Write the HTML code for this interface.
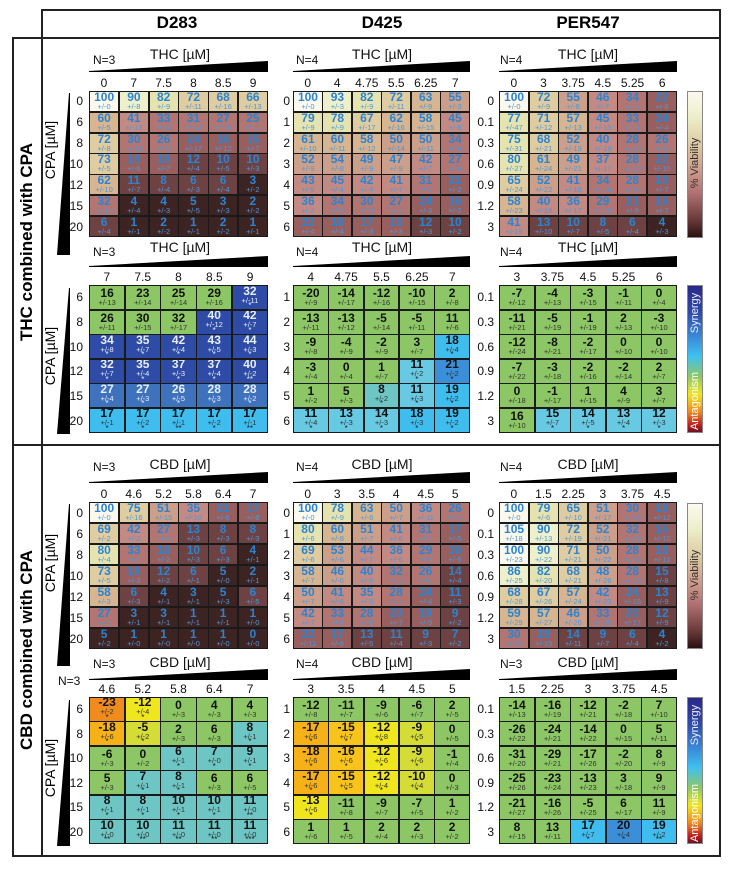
<!DOCTYPE html>
<html><head><meta charset="utf-8"><style>
*{margin:0;padding:0;box-sizing:border-box}
body{width:732px;height:869px;background:#fff;position:relative;font-family:"Liberation Sans",Arial,sans-serif;overflow:hidden}
.ab{position:absolute}
.ln{position:absolute;background:#222}
.g6,.g5{position:absolute;display:grid;gap:1.5px;background:#1a1a1a;border:1.5px solid #1a1a1a}
.g6{grid-template-columns:repeat(6,1fr);grid-template-rows:repeat(7,1fr)}
.g5{grid-template-columns:repeat(5,1fr);grid-template-rows:repeat(6,1fr)}
.g6>div,.g5>div{display:flex;flex-direction:column;align-items:center;justify-content:center;overflow:hidden;position:relative}
.g5>div:has(u){padding-bottom:5px}
.g6 b{font-size:12px;line-height:11px;color:#2b84d2;font-weight:bold}
.g6 i{font-style:normal;font-size:7.5px;line-height:8px;color:#4d97d8}
.g5 b{font-size:12px;line-height:11px;color:#111;font-weight:bold}
.g5 i{font-style:normal;font-size:7.5px;line-height:8px;color:#333}
.g5 u{text-decoration:none;font-size:8px;line-height:6px;color:#222;position:absolute;bottom:0;left:0;right:0;text-align:center}
.a10{background:#fbf9ee}.a9{background:#eef0cc}.a8{background:#e5e4b0}.a7{background:#dfcca0}.a6{background:#d6b590}.a5{background:#cc9f8a}.a4{background:#c38a84}.a3{background:#b27571}.a2{background:#985f5e}.a1{background:#6e4242}.a0{background:#3e2323}
.g{background:#8dc765}.t{background:#6ec6c4}.lc{background:#68c9e2}.c{background:#3ebdee}.m{background:#3a8fd8}
.b1{background:#3f72bc}.b2{background:#2e4ba6}.b1 b,.b1 i,.b1 u,.b2 b,.b2 i,.b2 u{color:#e8eef8}
.y{background:#f0e61e}.yg{background:#d6dc36}.o{background:#f8c41c}.oo{background:#f6b018}.r{background:#f08b1e}
.cl{position:absolute;display:grid;font-size:12px;text-align:center;color:#111;height:16px;line-height:16px}
.rl{position:absolute;display:grid;font-size:12px;text-align:right;color:#111;width:30px}
.rl span{display:flex;align-items:center;justify-content:flex-end}
.nl{position:absolute;font-size:12px;color:#111}
.tl{position:absolute;font-size:14px;color:#111;width:120px;text-align:center}
.rot{position:absolute;transform:rotate(-90deg);transform-origin:center;white-space:nowrap;text-align:center}
.cb{position:absolute;width:16px;border:1.5px solid #888}
.cv{background:linear-gradient(#fbfaf0,#eceec6 18%,#dcc6a0 38%,#cc9a8a 55%,#b07070 70%,#6a3a3a 88%,#2a1010)}
.cs{background:linear-gradient(#2a2888,#2e4ba8 18%,#3a8ad8 35%,#40c0f0 48%,#8dc765 62%,#f0e61e 74%,#f08b1e 86%,#c02020 95%,#701020)}
</style></head><body>

<div class="ln" style="left:42px;top:9px;width:679px;height:2px"></div>
<div class="ln" style="left:13px;top:37px;width:708px;height:2px"></div>
<div class="ln" style="left:41px;top:9px;width:2px;height:848px"></div>
<div class="ln" style="left:719px;top:9px;width:2px;height:848px"></div>
<div class="ln" style="left:12px;top:37px;width:2px;height:820px"></div>
<div class="ln" style="left:13px;top:444px;width:708px;height:2px"></div>
<div class="ln" style="left:12px;top:855px;width:709px;height:2px"></div>

<div class="ab" style="left:117px;top:13px;width:120px;text-align:center;font-size:17px;font-weight:bold">D283</div>
<div class="ab" style="left:322px;top:13px;width:120px;text-align:center;font-size:17px;font-weight:bold">D425</div>
<div class="ab" style="left:528px;top:13px;width:120px;text-align:center;font-size:17px;font-weight:bold">PER547</div>

<div class="rot" style="left:-73px;top:232px;width:200px;font-size:17px;font-weight:bold">THC combined with CPA</div>
<div class="rot" style="left:-73px;top:640px;width:200px;font-size:17px;font-weight:bold">CBD combined with CPA</div>

<div class="rot" style="left:20px;top:142px;width:60px;font-size:14px">CPA [µM]</div>
<svg class="ab" style="left:56px;top:93px" width="16" height="162"><polygon points="14,0 14,162 1,162 13,0" fill="#000"/></svg>
<div class="rot" style="left:20px;top:348px;width:60px;font-size:14px">CPA [µM]</div>
<svg class="ab" style="left:56px;top:288px" width="16" height="146"><polygon points="14,0 14,146 1,146 13,0" fill="#000"/></svg>
<div class="rot" style="left:20px;top:555px;width:60px;font-size:14px">CPA [µM]</div>
<svg class="ab" style="left:56px;top:504px" width="16" height="162"><polygon points="14,0 14,162 1,162 13,0" fill="#000"/></svg>
<div class="rot" style="left:20px;top:760px;width:60px;font-size:14px">CPA [µM]</div>
<svg class="ab" style="left:56px;top:700px" width="16" height="146"><polygon points="14,0 14,146 1,146 13,0" fill="#000"/></svg>

<div class="nl" style="left:93px;top:53px">N=3</div><div class="tl" style="left:120px;top:46px">THC [µM]</div>
<svg class="ab" style="left:89px;top:61px" width="179" height="11"><polygon points="0,10 179,0 179,11 0,11" fill="#000"/></svg>
<div class="nl" style="left:296px;top:53px">N=4</div><div class="tl" style="left:322px;top:46px">THC [µM]</div>
<svg class="ab" style="left:293px;top:61px" width="177" height="11"><polygon points="0,10 177,0 177,11 0,11" fill="#000"/></svg>
<div class="nl" style="left:500px;top:53px">N=4</div><div class="tl" style="left:528px;top:46px">THC [µM]</div>
<svg class="ab" style="left:499px;top:61px" width="178" height="11"><polygon points="0,10 178,0 178,11 0,11" fill="#000"/></svg>
<div class="nl" style="left:93px;top:245px">N=3</div><div class="tl" style="left:120px;top:239px">THC [µM]</div>
<svg class="ab" style="left:89px;top:256px" width="179" height="11"><polygon points="0,10 179,0 179,11 0,11" fill="#000"/></svg>
<div class="nl" style="left:296px;top:245px">N=4</div><div class="tl" style="left:322px;top:239px">THC [µM]</div>
<svg class="ab" style="left:293px;top:256px" width="177" height="11"><polygon points="0,10 177,0 177,11 0,11" fill="#000"/></svg>
<div class="nl" style="left:500px;top:245px">N=4</div><div class="tl" style="left:528px;top:239px">THC [µM]</div>
<svg class="ab" style="left:499px;top:256px" width="178" height="11"><polygon points="0,10 178,0 178,11 0,11" fill="#000"/></svg>
<div class="nl" style="left:93px;top:460px">N=3</div><div class="tl" style="left:120px;top:456px">CBD [µM]</div>
<svg class="ab" style="left:89px;top:472px" width="179" height="11"><polygon points="0,10 179,0 179,11 0,11" fill="#000"/></svg>
<div class="nl" style="left:296px;top:460px">N=4</div><div class="tl" style="left:322px;top:456px">CBD [µM]</div>
<svg class="ab" style="left:293px;top:472px" width="177" height="11"><polygon points="0,10 177,0 177,11 0,11" fill="#000"/></svg>
<div class="nl" style="left:500px;top:460px">N=4</div><div class="tl" style="left:528px;top:456px">CBD [µM]</div>
<svg class="ab" style="left:499px;top:472px" width="178" height="11"><polygon points="0,10 178,0 178,11 0,11" fill="#000"/></svg>
<div class="nl" style="left:93px;top:657px">N=3</div><div class="tl" style="left:120px;top:654px">CBD [µM]</div>
<div class="nl" style="left:58px;top:674px">N=3</div>
<svg class="ab" style="left:89px;top:669px" width="179" height="11"><polygon points="0,10 179,0 179,11 0,11" fill="#000"/></svg>
<div class="nl" style="left:296px;top:657px">N=4</div><div class="tl" style="left:322px;top:654px">CBD [µM]</div>
<svg class="ab" style="left:293px;top:669px" width="177" height="11"><polygon points="0,10 177,0 177,11 0,11" fill="#000"/></svg>
<div class="nl" style="left:500px;top:657px">N=3</div><div class="tl" style="left:528px;top:654px">CBD [µM]</div>
<svg class="ab" style="left:499px;top:669px" width="178" height="11"><polygon points="0,10 178,0 178,11 0,11" fill="#000"/></svg>

<div class="cl" style="left:89px;top:75px;width:179px;grid-template-columns:repeat(6,1fr)"><span>0</span><span>7</span><span>7.5</span><span>8</span><span>8.5</span><span>9</span></div>
<div class="cl" style="left:293px;top:75px;width:177px;grid-template-columns:repeat(6,1fr)"><span>0</span><span>4</span><span>4.75</span><span>5.5</span><span>6.25</span><span>7</span></div>
<div class="cl" style="left:499px;top:75px;width:178px;grid-template-columns:repeat(6,1fr)"><span>0</span><span>3</span><span>3.75</span><span>4.5</span><span>5.25</span><span>6</span></div>
<div class="cl" style="left:89px;top:269px;width:179px;grid-template-columns:repeat(5,1fr)"><span>7</span><span>7.5</span><span>8</span><span>8.5</span><span>9</span></div>
<div class="cl" style="left:293px;top:269px;width:177px;grid-template-columns:repeat(5,1fr)"><span>4</span><span>4.75</span><span>5.5</span><span>6.25</span><span>7</span></div>
<div class="cl" style="left:499px;top:269px;width:178px;grid-template-columns:repeat(5,1fr)"><span>3</span><span>3.75</span><span>4.5</span><span>5.25</span><span>6</span></div>
<div class="cl" style="left:89px;top:486px;width:179px;grid-template-columns:repeat(6,1fr)"><span>0</span><span>4.6</span><span>5.2</span><span>5.8</span><span>6.4</span><span>7</span></div>
<div class="cl" style="left:293px;top:486px;width:177px;grid-template-columns:repeat(6,1fr)"><span>0</span><span>3</span><span>3.5</span><span>4</span><span>4.5</span><span>5</span></div>
<div class="cl" style="left:499px;top:486px;width:178px;grid-template-columns:repeat(6,1fr)"><span>0</span><span>1.5</span><span>2.25</span><span>3</span><span>3.75</span><span>4.5</span></div>
<div class="cl" style="left:89px;top:681px;width:179px;grid-template-columns:repeat(5,1fr)"><span>4.6</span><span>5.2</span><span>5.8</span><span>6.4</span><span>7</span></div>
<div class="cl" style="left:293px;top:681px;width:177px;grid-template-columns:repeat(5,1fr)"><span>3</span><span>3.5</span><span>4</span><span>4.5</span><span>5</span></div>
<div class="cl" style="left:499px;top:681px;width:178px;grid-template-columns:repeat(5,1fr)"><span>1.5</span><span>2.25</span><span>3</span><span>3.75</span><span>4.5</span></div>

<div class="rl" style="left:53px;top:91px;height:146px;grid-template-rows:repeat(7,1fr)"><span>0</span><span>6</span><span>8</span><span>10</span><span>12</span><span>15</span><span>20</span></div>
<div class="rl" style="left:260px;top:91px;height:146px;grid-template-rows:repeat(7,1fr)"><span>0</span><span>1</span><span>2</span><span>3</span><span>4</span><span>5</span><span>6</span></div>
<div class="rl" style="left:464px;top:91px;height:146px;grid-template-rows:repeat(7,1fr)"><span>0</span><span>0.1</span><span>0.3</span><span>0.6</span><span>0.9</span><span>1.2</span><span>3</span></div>
<div class="rl" style="left:53px;top:285px;height:148px;grid-template-rows:repeat(6,1fr)"><span>6</span><span>8</span><span>10</span><span>12</span><span>15</span><span>20</span></div>
<div class="rl" style="left:260px;top:285px;height:148px;grid-template-rows:repeat(6,1fr)"><span>1</span><span>2</span><span>3</span><span>4</span><span>5</span><span>6</span></div>
<div class="rl" style="left:464px;top:285px;height:148px;grid-template-rows:repeat(6,1fr)"><span>0.1</span><span>0.3</span><span>0.6</span><span>0.9</span><span>1.2</span><span>3</span></div>
<div class="rl" style="left:53px;top:502px;height:147px;grid-template-rows:repeat(7,1fr)"><span>0</span><span>6</span><span>8</span><span>10</span><span>12</span><span>15</span><span>20</span></div>
<div class="rl" style="left:260px;top:502px;height:147px;grid-template-rows:repeat(7,1fr)"><span>0</span><span>1</span><span>2</span><span>3</span><span>4</span><span>5</span><span>6</span></div>
<div class="rl" style="left:464px;top:502px;height:147px;grid-template-rows:repeat(7,1fr)"><span>0</span><span>0.1</span><span>0.3</span><span>0.6</span><span>0.9</span><span>1.2</span><span>3</span></div>
<div class="rl" style="left:53px;top:697px;height:147px;grid-template-rows:repeat(6,1fr)"><span>6</span><span>8</span><span>10</span><span>12</span><span>15</span><span>20</span></div>
<div class="rl" style="left:260px;top:697px;height:147px;grid-template-rows:repeat(6,1fr)"><span>1</span><span>2</span><span>3</span><span>4</span><span>5</span><span>6</span></div>
<div class="rl" style="left:464px;top:697px;height:147px;grid-template-rows:repeat(6,1fr)"><span>0.1</span><span>0.3</span><span>0.6</span><span>0.9</span><span>1.2</span><span>3</span></div>

<div class="cb cv" style="left:687px;top:91px;height:147px"></div>
<div class="rot" style="left:655px;top:157px;width:80px;font-size:11px;color:#333">% Viability</div>
<div class="cb cs" style="left:687px;top:285px;height:148px"></div>
<div class="rot" style="left:665px;top:307px;width:60px;font-size:11px;color:#eef">Synergy</div>
<div class="rot" style="left:655px;top:395px;width:80px;font-size:11px;color:#fff">Antagonism</div>
<div class="cb cv" style="left:687px;top:503px;height:146px"></div>
<div class="rot" style="left:655px;top:569px;width:80px;font-size:11px;color:#333">% Viability</div>
<div class="cb cs" style="left:687px;top:697px;height:147px"></div>
<div class="rot" style="left:665px;top:719px;width:60px;font-size:11px;color:#eef">Synergy</div>
<div class="rot" style="left:655px;top:807px;width:80px;font-size:11px;color:#fff">Antagonism</div>

<div class="g6" style="left:89px;top:91px;width:179px;height:146px">
<div class="a10"><b>100</b><i>+/-0</i></div><div class="a9"><b>90</b><i>+/-8</i></div><div class="a8"><b>82</b><i>+/-9</i></div><div class="a7"><b>72</b><i>+/-11</i></div><div class="a7"><b>68</b><i>+/-16</i></div><div class="a7"><b>66</b><i>+/-13</i></div>
<div class="a6"><b>60</b><i>+/-5</i></div><div class="a4"><b>41</b><i>+/-13</i></div><div class="a3"><b>33</b><i>+/-14</i></div><div class="a3"><b>31</b><i>+/-14</i></div><div class="a3"><b>27</b><i>+/-16</i></div><div class="a3"><b>25</b><i>+/-11</i></div>
<div class="a7"><b>72</b><i>+/-8</i></div><div class="a3"><b>30</b><i>+/-11</i></div><div class="a3"><b>26</b><i>+/-15</i></div><div class="a2"><b>24</b><i>+/-17</i></div><div class="a2"><b>16</b><i>+/-12</i></div><div class="a2"><b>15</b><i>+/-7</i></div>
<div class="a7"><b>73</b><i>+/-5</i></div><div class="a2"><b>19</b><i>+/-6</i></div><div class="a2"><b>19</b><i>+/-7</i></div><div class="a1"><b>12</b><i>+/-4</i></div><div class="a1"><b>10</b><i>+/-5</i></div><div class="a1"><b>10</b><i>+/-3</i></div>
<div class="a6"><b>62</b><i>+/-10</i></div><div class="a1"><b>11</b><i>+/-7</i></div><div class="a1"><b>8</b><i>+/-4</i></div><div class="a1"><b>6</b><i>+/-3</i></div><div class="a1"><b>6</b><i>+/-4</i></div><div class="a0"><b>3</b><i>+/-2</i></div>
<div class="a3"><b>32</b><i>+/-10</i></div><div class="a0"><b>4</b><i>+/-4</i></div><div class="a0"><b>4</b><i>+/-3</i></div><div class="a0"><b>5</b><i>+/-5</i></div><div class="a0"><b>3</b><i>+/-3</i></div><div class="a0"><b>2</b><i>+/-2</i></div>
<div class="a1"><b>6</b><i>+/-4</i></div><div class="a0"><b>1</b><i>+/-1</i></div><div class="a0"><b>2</b><i>+/-2</i></div><div class="a0"><b>1</b><i>+/-1</i></div><div class="a0"><b>2</b><i>+/-2</i></div><div class="a0"><b>1</b><i>+/-1</i></div>
</div>

<div class="g6" style="left:293px;top:91px;width:177px;height:146px">
<div class="a10"><b>100</b><i>+/-0</i></div><div class="a9"><b>93</b><i>+/-3</i></div><div class="a8"><b>82</b><i>+/-9</i></div><div class="a7"><b>72</b><i>+/-11</i></div><div class="a6"><b>63</b><i>+/-9</i></div><div class="a5"><b>55</b><i>+/-3</i></div>
<div class="a8"><b>79</b><i>+/-9</i></div><div class="a8"><b>78</b><i>+/-9</i></div><div class="a7"><b>67</b><i>+/-17</i></div><div class="a6"><b>62</b><i>+/-16</i></div><div class="a6"><b>58</b><i>+/-15</i></div><div class="a4"><b>45</b><i>+/-8</i></div>
<div class="a6"><b>61</b><i>+/-10</i></div><div class="a6"><b>60</b><i>+/-11</i></div><div class="a6"><b>58</b><i>+/-12</i></div><div class="a5"><b>50</b><i>+/-14</i></div><div class="a5"><b>50</b><i>+/-11</i></div><div class="a3"><b>34</b><i>+/-6</i></div>
<div class="a5"><b>52</b><i>+/-9</i></div><div class="a5"><b>54</b><i>+/-8</i></div><div class="a5"><b>49</b><i>+/-9</i></div><div class="a5"><b>47</b><i>+/-9</i></div><div class="a4"><b>42</b><i>+/-7</i></div><div class="a3"><b>27</b><i>+/-4</i></div>
<div class="a4"><b>43</b><i>+/-5</i></div><div class="a4"><b>45</b><i>+/-4</i></div><div class="a4"><b>42</b><i>+/-4</i></div><div class="a4"><b>41</b><i>+/-7</i></div><div class="a3"><b>31</b><i>+/-2</i></div><div class="a2"><b>21</b><i>+/-2</i></div>
<div class="a4"><b>36</b><i>+/-2</i></div><div class="a3"><b>34</b><i>+/-2</i></div><div class="a3"><b>30</b><i>+/-3</i></div><div class="a3"><b>27</b><i>+/-2</i></div><div class="a2"><b>24</b><i>+/-3</i></div><div class="a2"><b>16</b><i>+/-2</i></div>
<div class="a2"><b>22</b><i>+/-4</i></div><div class="a2"><b>18</b><i>+/-4</i></div><div class="a2"><b>17</b><i>+/-3</i></div><div class="a2"><b>16</b><i>+/-3</i></div><div class="a1"><b>12</b><i>+/-3</i></div><div class="a1"><b>10</b><i>+/-2</i></div>
</div>

<div class="g6" style="left:499px;top:91px;width:178px;height:146px">
<div class="a10"><b>100</b><i>+/-0</i></div><div class="a7"><b>72</b><i>+/-9</i></div><div class="a5"><b>55</b><i>+/-8</i></div><div class="a4"><b>46</b><i>+/-7</i></div><div class="a3"><b>34</b><i>+/-6</i></div><div class="a2"><b>22</b><i>+/-8</i></div>
<div class="a8"><b>77</b><i>+/-47</i></div><div class="a7"><b>71</b><i>+/-12</i></div><div class="a6"><b>57</b><i>+/-13</i></div><div class="a4"><b>45</b><i>+/-15</i></div><div class="a3"><b>33</b><i>+/-11</i></div><div class="a2"><b>24</b><i>+/-4</i></div>
<div class="a8"><b>75</b><i>+/-31</i></div><div class="a7"><b>68</b><i>+/-21</i></div><div class="a5"><b>52</b><i>+/-19</i></div><div class="a4"><b>40</b><i>+/-19</i></div><div class="a3"><b>28</b><i>+/-13</i></div><div class="a3"><b>26</b><i>+/-10</i></div>
<div class="a8"><b>80</b><i>+/-27</i></div><div class="a6"><b>61</b><i>+/-24</i></div><div class="a5"><b>49</b><i>+/-21</i></div><div class="a4"><b>37</b><i>+/-17</i></div><div class="a3"><b>28</b><i>+/-10</i></div><div class="a2"><b>22</b><i>+/-10</i></div>
<div class="a7"><b>65</b><i>+/-24</i></div><div class="a5"><b>52</b><i>+/-22</i></div><div class="a4"><b>41</b><i>+/-18</i></div><div class="a3"><b>34</b><i>+/-16</i></div><div class="a3"><b>28</b><i>+/-14</i></div><div class="a2"><b>19</b><i>+/-7</i></div>
<div class="a6"><b>58</b><i>+/-23</i></div><div class="a4"><b>40</b><i>+/-18</i></div><div class="a4"><b>36</b><i>+/-17</i></div><div class="a3"><b>29</b><i>+/-15</i></div><div class="a2"><b>21</b><i>+/-9</i></div><div class="a2"><b>16</b><i>+/-7</i></div>
<div class="a4"><b>41</b><i>+/-19</i></div><div class="a1"><b>13</b><i>+/-10</i></div><div class="a1"><b>10</b><i>+/-7</i></div><div class="a1"><b>8</b><i>+/-5</i></div><div class="a1"><b>6</b><i>+/-4</i></div><div class="a0"><b>4</b><i>+/-3</i></div>
</div>

<div class="g5" style="left:89px;top:285px;width:179px;height:148px">
<div class="g"><b>16</b><i>+/-13</i></div><div class="g"><b>23</b><i>+/-14</i></div><div class="g"><b>25</b><i>+/-14</i></div><div class="g"><b>29</b><i>+/-16</i></div><div class="b2"><b>32</b><i>+/-11</i><u>*</u></div>
<div class="g"><b>26</b><i>+/-11</i></div><div class="g"><b>30</b><i>+/-15</i></div><div class="g"><b>32</b><i>+/-17</i></div><div class="b2"><b>40</b><i>+/-12</i><u>*</u></div><div class="b2"><b>42</b><i>+/-7</i><u>*</u></div>
<div class="b2"><b>34</b><i>+/-8</i><u>*</u></div><div class="b2"><b>35</b><i>+/-7</i><u>*</u></div><div class="b2"><b>42</b><i>+/-4</i><u>*</u></div><div class="b2"><b>43</b><i>+/-5</i><u>*</u></div><div class="b2"><b>44</b><i>+/-3</i><u>*</u></div>
<div class="b2"><b>32</b><i>+/-7</i><u>*</u></div><div class="b2"><b>35</b><i>+/-4</i><u>*</u></div><div class="b2"><b>37</b><i>+/-3</i><u>*</u></div><div class="b2"><b>37</b><i>+/-4</i><u>*</u></div><div class="b2"><b>40</b><i>+/-2</i><u>**</u></div>
<div class="b1"><b>27</b><i>+/-4</i><u>*</u></div><div class="b1"><b>27</b><i>+/-3</i><u>*</u></div><div class="b1"><b>26</b><i>+/-5</i><u>*</u></div><div class="b1"><b>28</b><i>+/-3</i><u>*</u></div><div class="b1"><b>28</b><i>+/-2</i><u>*</u></div>
<div class="c"><b>17</b><i>+/-1</i><u>*</u></div><div class="c"><b>17</b><i>+/-2</i><u>*</u></div><div class="c"><b>17</b><i>+/-1</i><u>**</u></div><div class="c"><b>17</b><i>+/-2</i><u>*</u></div><div class="c"><b>17</b><i>+/-1</i><u>**</u></div>
</div>

<div class="g5" style="left:293px;top:285px;width:177px;height:148px">
<div class="g"><b>-20</b><i>+/-9</i></div><div class="g"><b>-14</b><i>+/-17</i></div><div class="g"><b>-12</b><i>+/-16</i></div><div class="g"><b>-10</b><i>+/-15</i></div><div class="g"><b>2</b><i>+/-8</i></div>
<div class="g"><b>-13</b><i>+/-11</i></div><div class="g"><b>-13</b><i>+/-12</i></div><div class="g"><b>-5</b><i>+/-14</i></div><div class="g"><b>-5</b><i>+/-11</i></div><div class="g"><b>11</b><i>+/-6</i></div>
<div class="g"><b>-9</b><i>+/-8</i></div><div class="g"><b>-4</b><i>+/-9</i></div><div class="g"><b>-2</b><i>+/-9</i></div><div class="g"><b>3</b><i>+/-7</i></div><div class="c"><b>18</b><i>+/-4</i><u>*</u></div>
<div class="g"><b>-3</b><i>+/-4</i></div><div class="g"><b>0</b><i>+/-4</i></div><div class="g"><b>1</b><i>+/-7</i></div><div class="lc"><b>11</b><i>+/-2</i><u>*</u></div><div class="m"><b>21</b><i>+/-2</i><u>*</u></div>
<div class="g"><b>1</b><i>+/-2</i></div><div class="g"><b>5</b><i>+/-3</i></div><div class="t"><b>8</b><i>+/-2</i><u>*</u></div><div class="lc"><b>11</b><i>+/-3</i><u>*</u></div><div class="c"><b>19</b><i>+/-2</i><u>*</u></div>
<div class="lc"><b>11</b><i>+/-4</i><u>*</u></div><div class="lc"><b>13</b><i>+/-3</i><u>*</u></div><div class="lc"><b>14</b><i>+/-3</i><u>*</u></div><div class="c"><b>18</b><i>+/-3</i><u>*</u></div><div class="c"><b>19</b><i>+/-2</i><u>*</u></div>
</div>

<div class="g5" style="left:499px;top:285px;width:178px;height:148px">
<div class="g"><b>-7</b><i>+/-12</i></div><div class="g"><b>-4</b><i>+/-13</i></div><div class="g"><b>-3</b><i>+/-15</i></div><div class="g"><b>-1</b><i>+/-11</i></div><div class="g"><b>0</b><i>+/-4</i></div>
<div class="g"><b>-11</b><i>+/-21</i></div><div class="g"><b>-5</b><i>+/-19</i></div><div class="g"><b>-1</b><i>+/-19</i></div><div class="g"><b>2</b><i>+/-13</i></div><div class="g"><b>-3</b><i>+/-10</i></div>
<div class="g"><b>-12</b><i>+/-24</i></div><div class="g"><b>-8</b><i>+/-21</i></div><div class="g"><b>-2</b><i>+/-17</i></div><div class="g"><b>0</b><i>+/-10</i></div><div class="g"><b>0</b><i>+/-10</i></div>
<div class="g"><b>-7</b><i>+/-22</i></div><div class="g"><b>-3</b><i>+/-18</i></div><div class="g"><b>-2</b><i>+/-16</i></div><div class="g"><b>-2</b><i>+/-14</i></div><div class="g"><b>2</b><i>+/-7</i></div>
<div class="g"><b>0</b><i>+/-18</i></div><div class="g"><b>-1</b><i>+/-17</i></div><div class="g"><b>1</b><i>+/-15</i></div><div class="g"><b>4</b><i>+/-9</i></div><div class="g"><b>3</b><i>+/-7</i></div>
<div class="g"><b>16</b><i>+/-10</i></div><div class="lc"><b>15</b><i>+/-7</i><u>*</u></div><div class="lc"><b>14</b><i>+/-5</i><u>*</u></div><div class="lc"><b>13</b><i>+/-4</i><u>*</u></div><div class="lc"><b>12</b><i>+/-3</i><u>*</u></div>
</div>

<div class="g6" style="left:89px;top:502px;width:179px;height:147px">
<div class="a10"><b>100</b><i>+/-0</i></div><div class="a7"><b>75</b><i>+/-16</i></div><div class="a5"><b>51</b><i>+/-15</i></div><div class="a4"><b>35</b><i>+/-10</i></div><div class="a2"><b>21</b><i>+/-6</i></div><div class="a2"><b>17</b><i>+/-8</i></div>
<div class="a7"><b>69</b><i>+/-2</i></div><div class="a4"><b>42</b><i>+/-2</i></div><div class="a3"><b>27</b><i>+/-4</i></div><div class="a1"><b>13</b><i>+/-3</i></div><div class="a1"><b>8</b><i>+/-3</i></div><div class="a1"><b>8</b><i>+/-3</i></div>
<div class="a8"><b>80</b><i>+/-4</i></div><div class="a3"><b>33</b><i>+/-6</i></div><div class="a2"><b>18</b><i>+/-2</i></div><div class="a1"><b>10</b><i>+/-3</i></div><div class="a1"><b>6</b><i>+/-3</i></div><div class="a0"><b>4</b><i>+/-1</i></div>
<div class="a7"><b>73</b><i>+/-5</i></div><div class="a2"><b>18</b><i>+/-3</i></div><div class="a1"><b>12</b><i>+/-2</i></div><div class="a1"><b>6</b><i>+/-1</i></div><div class="a0"><b>5</b><i>+/-0</i></div><div class="a0"><b>2</b><i>+/-1</i></div>
<div class="a6"><b>58</b><i>+/-3</i></div><div class="a1"><b>6</b><i>+/-3</i></div><div class="a0"><b>4</b><i>+/-1</i></div><div class="a0"><b>3</b><i>+/-1</i></div><div class="a0"><b>5</b><i>+/-3</i></div><div class="a1"><b>6</b><i>+/-5</i></div>
<div class="a3"><b>27</b><i>+/-5</i></div><div class="a0"><b>3</b><i>+/-1</i></div><div class="a0"><b>3</b><i>+/-1</i></div><div class="a0"><b>1</b><i>+/-1</i></div><div class="a0"><b>1</b><i>+/-1</i></div><div class="a0"><b>1</b><i>+/-0</i></div>
<div class="a0"><b>5</b><i>+/-2</i></div><div class="a0"><b>1</b><i>+/-0</i></div><div class="a0"><b>1</b><i>+/-0</i></div><div class="a0"><b>1</b><i>+/-0</i></div><div class="a0"><b>1</b><i>+/-0</i></div><div class="a0"><b>0</b><i>+/-0</i></div>
</div>

<div class="g6" style="left:293px;top:502px;width:177px;height:147px">
<div class="a10"><b>100</b><i>+/-0</i></div><div class="a8"><b>78</b><i>+/-9</i></div><div class="a6"><b>63</b><i>+/-6</i></div><div class="a5"><b>50</b><i>+/-7</i></div><div class="a4"><b>36</b><i>+/-11</i></div><div class="a3"><b>26</b><i>+/-11</i></div>
<div class="a8"><b>80</b><i>+/-6</i></div><div class="a6"><b>60</b><i>+/-8</i></div><div class="a5"><b>51</b><i>+/-7</i></div><div class="a4"><b>41</b><i>+/-6</i></div><div class="a3"><b>31</b><i>+/-7</i></div><div class="a2"><b>17</b><i>+/-5</i></div>
<div class="a7"><b>69</b><i>+/-6</i></div><div class="a5"><b>53</b><i>+/-6</i></div><div class="a4"><b>44</b><i>+/-7</i></div><div class="a4"><b>36</b><i>+/-6</i></div><div class="a3"><b>29</b><i>+/-5</i></div><div class="a2"><b>16</b><i>+/-5</i></div>
<div class="a6"><b>58</b><i>+/-7</i></div><div class="a5"><b>46</b><i>+/-6</i></div><div class="a4"><b>40</b><i>+/-6</i></div><div class="a3"><b>32</b><i>+/-6</i></div><div class="a3"><b>26</b><i>+/-6</i></div><div class="a1"><b>14</b><i>+/-4</i></div>
<div class="a5"><b>50</b><i>+/-7</i></div><div class="a4"><b>41</b><i>+/-6</i></div><div class="a4"><b>35</b><i>+/-5</i></div><div class="a3"><b>28</b><i>+/-4</i></div><div class="a2"><b>24</b><i>+/-4</i></div><div class="a1"><b>11</b><i>+/-3</i></div>
<div class="a4"><b>42</b><i>+/-7</i></div><div class="a3"><b>33</b><i>+/-6</i></div><div class="a3"><b>28</b><i>+/-8</i></div><div class="a2"><b>23</b><i>+/-7</i></div><div class="a2"><b>19</b><i>+/-5</i></div><div class="a1"><b>9</b><i>+/-2</i></div>
<div class="a2"><b>22</b><i>+/-11</i></div><div class="a2"><b>17</b><i>+/-6</i></div><div class="a1"><b>13</b><i>+/-5</i></div><div class="a1"><b>11</b><i>+/-4</i></div><div class="a1"><b>9</b><i>+/-3</i></div><div class="a1"><b>7</b><i>+/-2</i></div>
</div>

<div class="g6" style="left:499px;top:502px;width:178px;height:147px">
<div class="a10"><b>100</b><i>+/-0</i></div><div class="a8"><b>79</b><i>+/-6</i></div><div class="a7"><b>65</b><i>+/-10</i></div><div class="a5"><b>51</b><i>+/-17</i></div><div class="a3"><b>30</b><i>+/-16</i></div><div class="a2"><b>18</b><i>+/-12</i></div>
<div class="a10"><b>105</b><i>+/-18</i></div><div class="a9"><b>90</b><i>+/-13</i></div><div class="a7"><b>72</b><i>+/-19</i></div><div class="a5"><b>52</b><i>+/-21</i></div><div class="a3"><b>32</b><i>+/-18</i></div><div class="a2"><b>16</b><i>+/-10</i></div>
<div class="a10"><b>100</b><i>+/-23</i></div><div class="a9"><b>90</b><i>+/-22</i></div><div class="a7"><b>71</b><i>+/-21</i></div><div class="a5"><b>50</b><i>+/-22</i></div><div class="a3"><b>28</b><i>+/-15</i></div><div class="a2"><b>18</b><i>+/-11</i></div>
<div class="a9"><b>86</b><i>+/-25</i></div><div class="a8"><b>82</b><i>+/-20</i></div><div class="a7"><b>68</b><i>+/-21</i></div><div class="a5"><b>48</b><i>+/-26</i></div><div class="a3"><b>28</b><i>+/-20</i></div><div class="a1"><b>15</b><i>+/-8</i></div>
<div class="a7"><b>68</b><i>+/-28</i></div><div class="a7"><b>67</b><i>+/-26</i></div><div class="a6"><b>57</b><i>+/-24</i></div><div class="a4"><b>42</b><i>+/-23</i></div><div class="a2"><b>24</b><i>+/-18</i></div><div class="a1"><b>13</b><i>+/-9</i></div>
<div class="a6"><b>59</b><i>+/-29</i></div><div class="a6"><b>57</b><i>+/-27</i></div><div class="a5"><b>46</b><i>+/-26</i></div><div class="a3"><b>33</b><i>+/-25</i></div><div class="a2"><b>20</b><i>+/-17</i></div><div class="a1"><b>12</b><i>+/-9</i></div>
<div class="a3"><b>30</b><i>+/-16</i></div><div class="a2"><b>19</b><i>+/-15</i></div><div class="a1"><b>14</b><i>+/-11</i></div><div class="a1"><b>9</b><i>+/-7</i></div><div class="a1"><b>6</b><i>+/-4</i></div><div class="a0"><b>4</b><i>+/-2</i></div>
</div>

<div class="g5" style="left:89px;top:697px;width:179px;height:147px">
<div class="r"><b>-23</b><i>+/-2</i><u>*</u></div><div class="y"><b>-12</b><i>+/-4</i><u>*</u></div><div class="g"><b>0</b><i>+/-3</i></div><div class="g"><b>4</b><i>+/-3</i></div><div class="g"><b>4</b><i>+/-3</i></div>
<div class="oo"><b>-18</b><i>+/-6</i><u>*</u></div><div class="yg"><b>-5</b><i>+/-2</i><u>*</u></div><div class="g"><b>2</b><i>+/-3</i></div><div class="g"><b>6</b><i>+/-3</i></div><div class="t"><b>8</b><i>+/-1</i><u>*</u></div>
<div class="g"><b>-6</b><i>+/-3</i></div><div class="g"><b>0</b><i>+/-2</i></div><div class="t"><b>6</b><i>+/-1</i><u>*</u></div><div class="t"><b>7</b><i>+/-0</i><u>*</u></div><div class="t"><b>9</b><i>+/-1</i><u>*</u></div>
<div class="g"><b>5</b><i>+/-3</i></div><div class="t"><b>7</b><i>+/-1</i><u>*</u></div><div class="t"><b>8</b><i>+/-1</i><u>*</u></div><div class="g"><b>6</b><i>+/-3</i></div><div class="g"><b>6</b><i>+/-5</i></div>
<div class="t"><b>8</b><i>+/-1</i><u>*</u></div><div class="t"><b>8</b><i>+/-1</i><u>*</u></div><div class="t"><b>10</b><i>+/-1</i><u>*</u></div><div class="t"><b>10</b><i>+/-1</i><u>*</u></div><div class="t"><b>11</b><i>+/-0</i><u>**</u></div>
<div class="t"><b>10</b><i>+/-0</i><u>**</u></div><div class="t"><b>10</b><i>+/-0</i><u>**</u></div><div class="t"><b>11</b><i>+/-0</i><u>**</u></div><div class="t"><b>11</b><i>+/-0</i><u>**</u></div><div class="t"><b>11</b><i>+/-0</i><u>***</u></div>
</div>

<div class="g5" style="left:293px;top:697px;width:177px;height:147px">
<div class="g"><b>-12</b><i>+/-8</i></div><div class="g"><b>-11</b><i>+/-7</i></div><div class="g"><b>-9</b><i>+/-6</i></div><div class="g"><b>-6</b><i>+/-7</i></div><div class="g"><b>2</b><i>+/-5</i></div>
<div class="oo"><b>-17</b><i>+/-6</i><u>*</u></div><div class="o"><b>-15</b><i>+/-7</i><u>*</u></div><div class="y"><b>-12</b><i>+/-8</i><u>*</u></div><div class="yg"><b>-9</b><i>+/-5</i><u>*</u></div><div class="g"><b>0</b><i>+/-5</i></div>
<div class="oo"><b>-18</b><i>+/-6</i><u>*</u></div><div class="o"><b>-16</b><i>+/-6</i><u>*</u></div><div class="y"><b>-12</b><i>+/-6</i><u>*</u></div><div class="yg"><b>-9</b><i>+/-6</i><u>*</u></div><div class="g"><b>-1</b><i>+/-4</i></div>
<div class="oo"><b>-17</b><i>+/-6</i><u>*</u></div><div class="o"><b>-15</b><i>+/-5</i><u>*</u></div><div class="y"><b>-12</b><i>+/-4</i><u>*</u></div><div class="yg"><b>-10</b><i>+/-4</i><u>*</u></div><div class="g"><b>0</b><i>+/-3</i></div>
<div class="y"><b>-13</b><i>+/-6</i><u>*</u></div><div class="g"><b>-11</b><i>+/-8</i></div><div class="g"><b>-9</b><i>+/-7</i></div><div class="g"><b>-7</b><i>+/-5</i></div><div class="g"><b>1</b><i>+/-2</i></div>
<div class="g"><b>1</b><i>+/-6</i></div><div class="g"><b>1</b><i>+/-5</i></div><div class="g"><b>2</b><i>+/-4</i></div><div class="g"><b>2</b><i>+/-3</i></div><div class="g"><b>2</b><i>+/-2</i></div>
</div>

<div class="g5" style="left:499px;top:697px;width:178px;height:147px">
<div class="g"><b>-14</b><i>+/-13</i></div><div class="g"><b>-16</b><i>+/-19</i></div><div class="g"><b>-12</b><i>+/-21</i></div><div class="g"><b>-2</b><i>+/-18</i></div><div class="g"><b>7</b><i>+/-10</i></div>
<div class="g"><b>-26</b><i>+/-22</i></div><div class="g"><b>-24</b><i>+/-21</i></div><div class="g"><b>-14</b><i>+/-22</i></div><div class="g"><b>0</b><i>+/-15</i></div><div class="g"><b>5</b><i>+/-11</i></div>
<div class="g"><b>-31</b><i>+/-20</i></div><div class="g"><b>-29</b><i>+/-21</i></div><div class="g"><b>-17</b><i>+/-26</i></div><div class="g"><b>-2</b><i>+/-20</i></div><div class="g"><b>8</b><i>+/-9</i></div>
<div class="g"><b>-25</b><i>+/-26</i></div><div class="g"><b>-23</b><i>+/-24</i></div><div class="g"><b>-13</b><i>+/-23</i></div><div class="g"><b>3</b><i>+/-18</i></div><div class="g"><b>9</b><i>+/-9</i></div>
<div class="g"><b>-21</b><i>+/-27</i></div><div class="g"><b>-16</b><i>+/-26</i></div><div class="g"><b>-5</b><i>+/-25</i></div><div class="g"><b>6</b><i>+/-17</i></div><div class="g"><b>11</b><i>+/-9</i></div>
<div class="g"><b>8</b><i>+/-15</i></div><div class="g"><b>13</b><i>+/-11</i></div><div class="c"><b>17</b><i>+/-7</i><u>*</u></div><div class="m"><b>20</b><i>+/-4</i><u>*</u></div><div class="c"><b>19</b><i>+/-2</i><u>**</u></div>
</div>

</body></html>
